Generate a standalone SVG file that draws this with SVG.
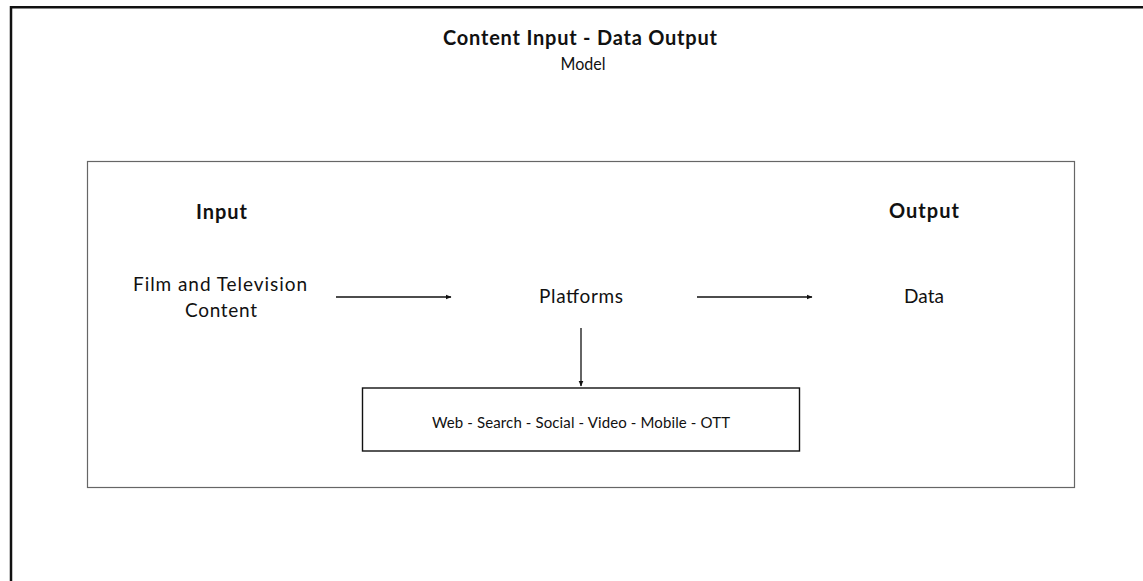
<svg xmlns="http://www.w3.org/2000/svg" width="1143" height="581" viewBox="0 0 1143 581">
<style>
text{font-family:Lato,"Noto Sans","Liberation Sans",sans-serif;fill:#111;text-anchor:middle}
.b{font-weight:bold}
.conn line{stroke:#111;stroke-width:1.3;marker-end:url(#ah)}
</style>
<defs>
<marker id="ah" markerWidth="8" markerHeight="8" refX="5.5" refY="3" orient="auto" markerUnits="userSpaceOnUse">
<path d="M0,0.5 L6,3 L0,5.5 Z" fill="#111"/>
</marker>
</defs>
<rect width="1143" height="581" fill="#fff"/>
<g id="frame">
<path d="M11,581 V7.2 H1143" fill="none" stroke="#111" stroke-width="2.5"/>
</g>
<g id="title">
<text x="580" y="45" class="b" font-size="20" textLength="274">Content Input - Data Output</text>
<text x="583" y="70" font-size="17.5" textLength="45" lengthAdjust="spacingAndGlyphs">Model</text>
</g>
<g id="container">
<rect x="87.5" y="161.5" width="987" height="326" fill="none" stroke="#666" stroke-width="1.2"/>
</g>
<g id="input">
<text x="221.5" y="219" class="b" font-size="20" textLength="51">Input</text>
<text x="220" y="291" font-size="19" textLength="174">Film and Television</text>
<text x="221" y="317" font-size="19" textLength="72">Content</text>
</g>
<g id="platforms">
<text x="581" y="303" font-size="19" textLength="84">Platforms</text>
</g>
<g id="output">
<text x="924" y="218" class="b" font-size="20" textLength="70">Output</text>
<text x="924" y="303" font-size="19" textLength="40">Data</text>
</g>
<g id="channels">
<rect x="362.5" y="388" width="437" height="63" fill="#fff" stroke="#111" stroke-width="1.4"/>
<text x="581" y="428" font-size="15" textLength="298">Web - Search - Social - Video - Mobile - OTT</text>
</g>
<g class="conn" id="connectors">
<line x1="336" y1="297" x2="451" y2="297"/>
<line x1="697" y1="297" x2="812" y2="297"/>
<line x1="581" y1="328" x2="581" y2="386"/>
</g>
</svg>
